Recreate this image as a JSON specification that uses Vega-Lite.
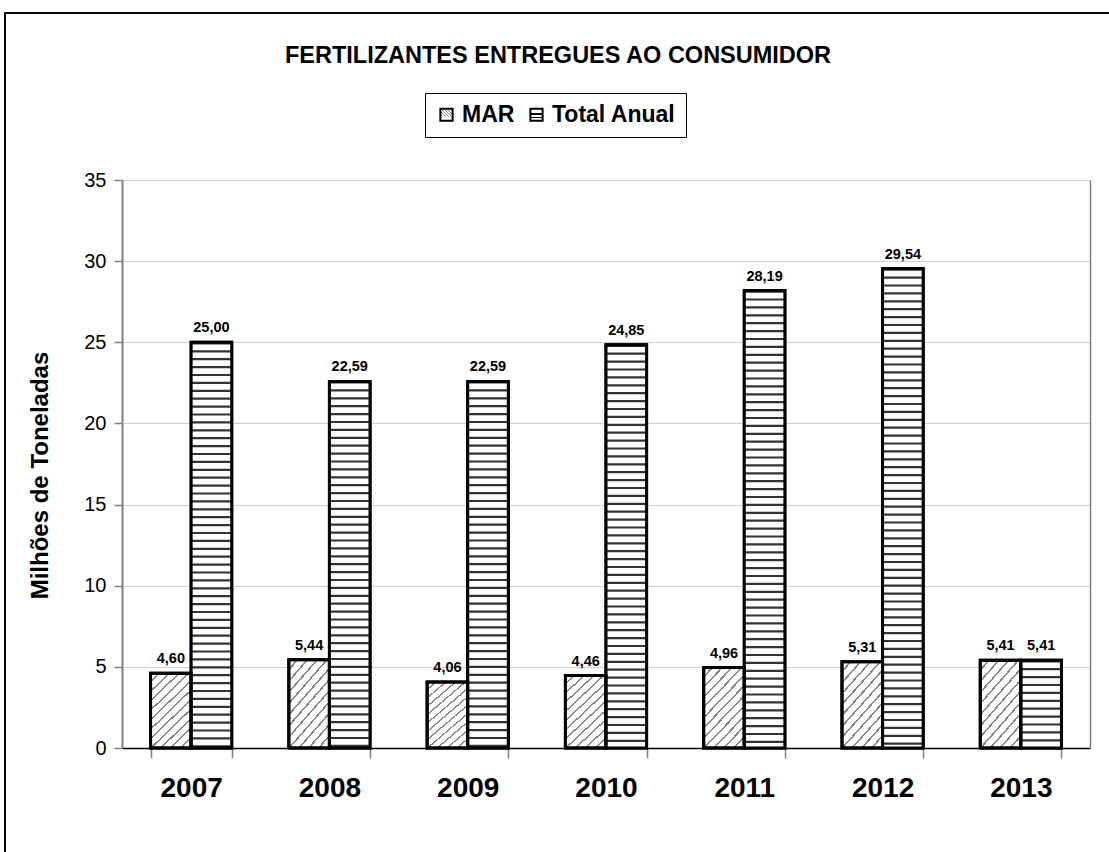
{
  "$schema": "https://vega.github.io/schema/vega-lite/v6.json",
  "width": 1106,
  "height": 841,
  "autosize": {"type": "none"},
  "padding": {"left": 5, "top": 13, "right": -2, "bottom": -2},
  "background": "white",
  "title": {
    "text": "FERTILIZANTES ENTREGUES AO CONSUMIDOR",
    "anchor": "middle",
    "frame": "group",
    "font": "Liberation Sans",
    "fontSize": 23.5,
    "fontWeight": "bold",
    "color": "black",
    "baseline": "alphabetic",
    "offset": 0,
    "dy": 73
  },
  "config": {
    "locale": {"number": {"decimal": ",", "thousands": ".", "grouping": [3], "currency": ["R$", ""]}},
    "view": {"stroke": "black", "strokeWidth": 2},
    "font": "Liberation Sans"
  },
  "data": {
    "values": [
      {"year": "2007", "serie": "MAR", "value": 4.60},
      {"year": "2007", "serie": "Total Anual", "value": 25.00},
      {"year": "2008", "serie": "MAR", "value": 5.44},
      {"year": "2008", "serie": "Total Anual", "value": 22.59},
      {"year": "2009", "serie": "MAR", "value": 4.06},
      {"year": "2009", "serie": "Total Anual", "value": 22.59},
      {"year": "2010", "serie": "MAR", "value": 4.46},
      {"year": "2010", "serie": "Total Anual", "value": 24.85},
      {"year": "2011", "serie": "MAR", "value": 4.96},
      {"year": "2011", "serie": "Total Anual", "value": 28.19},
      {"year": "2012", "serie": "MAR", "value": 5.31},
      {"year": "2012", "serie": "Total Anual", "value": 29.54},
      {"year": "2013", "serie": "MAR", "value": 5.41},
      {"year": "2013", "serie": "Total Anual", "value": 5.41}
    ]
  },
  "resolve": {"axis": {"x": "independent", "y": "independent"}},
  "layer": [
    {
      "mark": {"type": "bar", "stroke": "black", "strokeWidth": 3},
      "encoding": {
        "x": {
          "field": "year", "type": "ordinal",
          "scale": {"range": [117, 1085], "paddingInner": 0.413, "paddingOuter": 0.2065},
          "axis": {
            "orient": "bottom", "offset": -106, "title": null, "labelAngle": 0,
            "labelFont": "Liberation Sans", "labelFontSize": 28, "labelFontWeight": "bold",
            "labelColor": "black", "labelPadding": 16,
            "domainColor": "black", "domainWidth": 1.5,
            "tickBand": "extent", "tickColor": "#808080", "tickWidth": 1.5, "tickSize": 10,
            "grid": false
          }
        },
        "xOffset": {"field": "serie", "type": "nominal", "scale": {"domain": ["MAR", "Total Anual"], "paddingInner": 0, "paddingOuter": 0}},
        "y": {
          "field": "value", "type": "quantitative",
          "scale": {"domain": [0, 35], "range": [735, 167], "nice": false},
          "axis": {
            "orient": "left", "offset": -117,
            "values": [0, 5, 10, 15, 20, 25, 30, 35],
            "title": "Milhões de Toneladas",
            "titleFont": "Liberation Sans", "titleFontSize": 24, "titleFontWeight": "bold", "titleColor": "black",
            "titleX": -70, "titleY": 462, "titleAngle": 270, "titleBaseline": "bottom",
            "labelFont": "Liberation Sans", "labelFontSize": 20, "labelColor": "black", "labelPadding": 8,
            "tickSize": 8, "tickColor": "#808080", "tickWidth": 1.5,
            "domainColor": "#808080", "domainWidth": 2,
            "grid": true, "gridColor": "#d0d0d0", "gridWidth": 1
          }
        },
        "fill": {
          "field": "serie", "type": "nominal",
          "scale": {
            "domain": ["MAR", "Total Anual"],
            "range": [
              {"expr": "{gradient: 'linear', x1: 0, y1: 0, x2: 0.629, y2: 1.195, stops: [{offset: 0, color: '#fff'}, {offset: 0.065, color: '#fff'}, {offset: 0.065, color: '#888'}, {offset: 0.083, color: '#888'}, {offset: 0.083, color: '#fff'}, {offset: 0.149, color: '#fff'}, {offset: 0.149, color: '#888'}, {offset: 0.167, color: '#888'}, {offset: 0.167, color: '#fff'}, {offset: 0.232, color: '#fff'}, {offset: 0.232, color: '#888'}, {offset: 0.25, color: '#888'}, {offset: 0.25, color: '#fff'}, {offset: 0.315, color: '#fff'}, {offset: 0.315, color: '#888'}, {offset: 0.333, color: '#888'}, {offset: 0.333, color: '#fff'}, {offset: 0.399, color: '#fff'}, {offset: 0.399, color: '#888'}, {offset: 0.417, color: '#888'}, {offset: 0.417, color: '#fff'}, {offset: 0.482, color: '#fff'}, {offset: 0.482, color: '#888'}, {offset: 0.5, color: '#888'}, {offset: 0.5, color: '#fff'}, {offset: 0.565, color: '#fff'}, {offset: 0.565, color: '#888'}, {offset: 0.583, color: '#888'}, {offset: 0.583, color: '#fff'}, {offset: 0.649, color: '#fff'}, {offset: 0.649, color: '#888'}, {offset: 0.667, color: '#888'}, {offset: 0.667, color: '#fff'}, {offset: 0.732, color: '#fff'}, {offset: 0.732, color: '#888'}, {offset: 0.75, color: '#888'}, {offset: 0.75, color: '#fff'}, {offset: 0.815, color: '#fff'}, {offset: 0.815, color: '#888'}, {offset: 0.833, color: '#888'}, {offset: 0.833, color: '#fff'}, {offset: 0.899, color: '#fff'}, {offset: 0.899, color: '#888'}, {offset: 0.917, color: '#888'}, {offset: 0.917, color: '#fff'}, {offset: 0.982, color: '#fff'}, {offset: 0.982, color: '#888'}, {offset: 1, color: '#888'}]}"},
              {"expr": "{gradient: 'linear', x1: 0, y1: 0, x2: 0, y2: 1, stops: [{offset: 0, color: '#fff'}, {offset: 0.35, color: '#fff'}, {offset: 0.35, color: '#000'}, {offset: 0.5, color: '#000'}, {offset: 0.5, color: '#fff'}, {offset: 0.65, color: '#fff'}, {offset: 0.65, color: '#000'}, {offset: 0.8, color: '#000'}, {offset: 0.8, color: '#fff'}, {offset: 1, color: '#fff'}]}"}
            ]
          },
          "legend": {
            "title": null, "orient": "none", "legendX": 420, "legendY": 80,
            "direction": "horizontal", "strokeColor": "black", "fillColor": "white",
            "padding": 10, "labelFont": "Liberation Sans", "labelFontSize": 23,
            "labelFontWeight": "bold", "labelColor": "black",
            "symbolType": "square", "symbolSize": 150, "symbolStrokeColor": "black",
            "symbolStrokeWidth": 2, "columnPadding": 10, "labelOffset": 4
          }
        }
      }
    },
    {
      "transform": [{"filter": "datum.serie == 'Total Anual'"}],
      "mark": {"type": "bar", "fill": "white", "strokeWidth": 0},
      "encoding": {
        "x": {"field": "year", "type": "ordinal", "axis": null},
        "xOffset": {"field": "serie", "type": "nominal"},
        "y": {"field": "value", "type": "quantitative", "axis": null}
      }
    },
    {
      "transform": [{"filter": "datum.serie == 'Total Anual'"}],
      "mark": {"type": "rule", "strokeWidth": 39, "strokeDash": [2.2, 5.7], "color": "#333", "strokeCap": "butt"},
      "encoding": {
        "x": {"field": "year", "type": "ordinal", "axis": null},
        "xOffset": {"field": "serie", "type": "nominal"},
        "y": {"field": "value", "type": "quantitative", "axis": null},
        "y2": {"datum": 0}
      }
    },
    {
      "mark": {"type": "bar", "fill": "transparent", "stroke": "black", "strokeWidth": 3},
      "encoding": {
        "x": {"field": "year", "type": "ordinal", "axis": null},
        "xOffset": {"field": "serie", "type": "nominal"},
        "y": {
          "field": "value", "type": "quantitative",
          "axis": {"orient": "right", "offset": -21, "labels": false, "ticks": false, "grid": false, "title": null, "domainColor": "#808080", "domainWidth": 1.5}
        }
      }
    },
    {
      "mark": {"type": "text", "baseline": "bottom", "dy": -7, "fontSize": 14.5, "fontWeight": "bold", "font": "Liberation Sans", "color": "black"},
      "encoding": {
        "x": {"field": "year", "type": "ordinal", "axis": null},
        "xOffset": {"field": "serie", "type": "nominal"},
        "y": {"field": "value", "type": "quantitative", "axis": null},
        "text": {"field": "value", "type": "quantitative", "format": ".2f"}
      }
    }
  ]
}
